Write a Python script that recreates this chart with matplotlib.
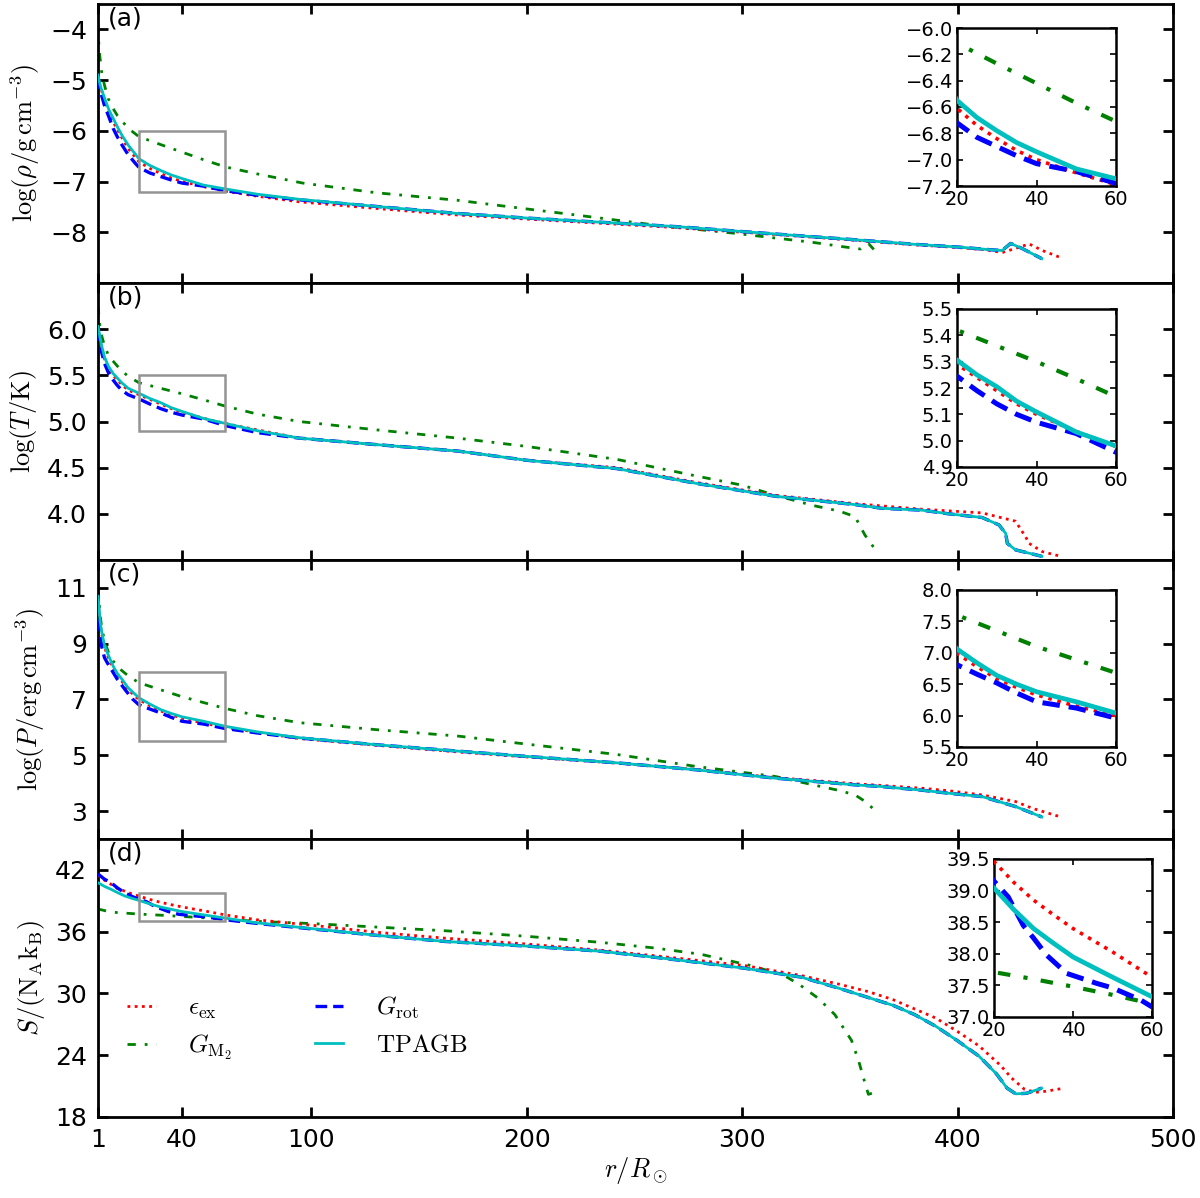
import matplotlib
matplotlib.use("Agg")
import matplotlib.pyplot as plt
from matplotlib.patches import Rectangle

# ---------------- data ----------------
# Panel (a): log(rho)
r_rho_ex = [1, 2, 4, 6, 8, 10, 12, 15, 20, 25, 30, 35, 40, 50, 60, 75, 94.4, 130, 168, 200, 241.8, 270, 314, 350, 381, 400, 414, 420.7, 426, 433.2, 440, 447.9]
rho_ex = [-4.92, -5.12, -5.38, -5.62, -5.82, -5.98, -6.13, -6.35, -6.61, -6.74, -6.84, -6.93, -7.0, -7.10, -7.19, -7.29, -7.40, -7.53, -7.66, -7.74, -7.84, -7.91, -8.04, -8.15, -8.25, -8.30, -8.35, -8.40, -8.33, -8.23, -8.37, -8.50]
r_rho_m2 = [1, 1.5, 2.7, 4, 5.8, 8, 10, 12, 15, 20, 30, 40, 50, 60, 75, 96, 130, 168, 200, 223, 260, 296.5, 333, 351, 355, 358.6, 362]
rho_m2 = [-3.9, -4.4, -4.84, -5.1, -5.37, -5.56, -5.7, -5.8, -5.95, -6.115, -6.27, -6.42, -6.57, -6.71, -6.85, -7.03, -7.22, -7.37, -7.54, -7.66, -7.86, -8.02, -8.20, -8.31, -8.33, -8.22, -8.38]
r_rho_rot = [1, 2, 4, 6, 8, 10, 12, 15, 18.3, 20, 25, 30, 35, 40, 50, 60, 75, 94.4, 130, 168, 200, 241.8, 270, 314, 350, 381, 400, 414, 420.7, 424.6, 430, 439.1]
rho_rot = [-4.95, -5.2, -5.5, -5.72, -5.95, -6.12, -6.27, -6.47, -6.64, -6.72, -6.83, -6.90, -6.97, -7.03, -7.09, -7.18, -7.27, -7.36, -7.49, -7.63, -7.72, -7.82, -7.89, -8.03, -8.14, -8.24, -8.29, -8.34, -8.36, -8.22, -8.32, -8.52]
r_rho_tp = [1, 2, 4, 6, 8, 10, 12, 15, 20, 25, 30, 35, 40, 50, 60, 75, 94.4, 130, 168, 200, 241.8, 270, 314, 350, 381, 400, 414, 420.7, 424.6, 430, 439.1]
rho_tp = [-4.9, -5.1, -5.35, -5.58, -5.75, -5.92, -6.08, -6.28, -6.55, -6.68, -6.78, -6.87, -6.94, -7.07, -7.145, -7.25, -7.35, -7.49, -7.63, -7.72, -7.82, -7.89, -8.03, -8.14, -8.24, -8.29, -8.34, -8.36, -8.22, -8.32, -8.52]

# Panel (b): log(T)
r_T_ex = [1, 2, 2.7, 4, 5.8, 8, 10, 12, 15, 20, 25, 30, 35, 40, 50, 60, 94.4, 130, 168, 200, 241.8, 278.7, 315.5, 352.4, 383.4, 411.4, 426.9, 431.6, 433.2, 439.4, 447.9]
T_ex = [6.0, 5.87, 5.8, 5.68, 5.58, 5.5, 5.45, 5.40, 5.34, 5.29, 5.24, 5.19, 5.14, 5.10, 5.035, 4.978, 4.82, 4.75, 4.68, 4.58, 4.50, 4.34, 4.20, 4.11, 4.05, 4.01, 3.92, 3.75, 3.68, 3.59, 3.54]
r_T_m2 = [1, 2, 2.7, 4, 5.8, 7.4, 10, 12, 15, 20, 30, 40, 50, 60, 75, 94.4, 130, 168, 200, 241.8, 278.7, 300, 315.5, 333, 345, 352.4, 357, 362.5]
T_m2 = [6.25, 6.0, 5.93, 5.82, 5.72, 5.67, 5.6, 5.55, 5.49, 5.42, 5.36, 5.30, 5.235, 5.167, 5.08, 5.0, 4.91, 4.82, 4.73, 4.59, 4.41, 4.31, 4.20, 4.09, 4.03, 3.97, 3.77, 3.59]
r_T_rot = [1, 2, 2.7, 4, 5.8, 8, 10, 12, 15, 20, 25, 30, 35, 40, 50, 60, 75, 94.4, 130, 168, 200, 241.8, 278.7, 315.5, 352.4, 364.8, 383.4, 395.9, 411.4, 419.2, 422.3, 423.1, 426.9, 439.1]
T_rot = [6.0, 5.84, 5.75, 5.63, 5.53, 5.45, 5.39, 5.34, 5.29, 5.245, 5.19, 5.14, 5.10, 5.07, 5.027, 4.956, 4.88, 4.82, 4.75, 4.68, 4.58, 4.49, 4.33, 4.19, 4.10, 4.06, 4.04, 4.0, 3.96, 3.88, 3.79, 3.68, 3.61, 3.54]
r_T_tp = [1, 2, 2.7, 4, 5.8, 8, 10, 12, 15, 20, 25, 30, 35, 40, 50, 60, 75, 94.4, 130, 168, 200, 241.8, 278.7, 315.5, 352.4, 364.8, 383.4, 395.9, 411.4, 419.2, 422.3, 423.1, 426.9, 439.1]
T_tp = [6.03, 5.9, 5.82, 5.7, 5.6, 5.52, 5.47, 5.42, 5.36, 5.306, 5.25, 5.205, 5.15, 5.109, 5.033, 4.98, 4.90, 4.82, 4.75, 4.68, 4.58, 4.49, 4.33, 4.19, 4.10, 4.06, 4.04, 4.0, 3.96, 3.88, 3.79, 3.68, 3.61, 3.54]

# Panel (c): log(P)
r_P_ex = [1, 2, 2.7, 4, 5.8, 8, 10, 12, 15, 20, 25, 30, 35, 40, 50, 60, 94.4, 130, 168, 200, 241.8, 278.7, 315.5, 352.4, 364.8, 383.4, 395.9, 411.4, 427, 434.7, 447.9]
P_ex = [10.6, 9.7, 9.35, 8.88, 8.5, 8.12, 7.86, 7.66, 7.35, 6.99, 6.78, 6.59, 6.45, 6.33, 6.15, 6.0, 5.6, 5.36, 5.12, 4.94, 4.72, 4.49, 4.2, 3.98, 3.92, 3.82, 3.73, 3.58, 3.34, 3.10, 2.79]
r_P_m2 = [1, 2, 2.7, 4, 5.8, 8, 10, 12, 15, 20, 30, 40, 50, 60, 75, 94.4, 130, 168, 200, 241.8, 278.7, 315.5, 333, 345, 352.4, 357, 362.5]
P_m2 = [11.0, 10.0, 9.6, 9.1, 8.7, 8.38, 8.2, 8.04, 7.85, 7.60, 7.35, 7.10, 6.89, 6.68, 6.42, 6.17, 5.92, 5.69, 5.40, 5.03, 4.60, 4.24, 3.94, 3.74, 3.58, 3.35, 2.97]
r_P_rot = [1, 2, 2.7, 4, 5.8, 7.4, 10, 13.6, 17, 20, 25, 30, 35, 40, 50, 60, 75, 94.4, 130, 168, 200, 241.8, 278.7, 315.5, 352.4, 364.8, 383.4, 395.9, 411.4, 419.2, 427, 439.1]
P_rot = [10.5, 9.3, 8.9, 8.5, 8.25, 8.05, 7.72, 7.35, 7.02, 6.81, 6.66, 6.52, 6.36, 6.22, 6.12, 5.96, 5.8, 5.62, 5.38, 5.15, 4.96, 4.73, 4.48, 4.18, 3.94, 3.88, 3.75, 3.64, 3.52, 3.34, 3.16, 2.79]
r_P_tp = [1, 2, 2.7, 4, 5.8, 8, 10, 12, 15, 20, 25, 30, 35, 40, 50, 60, 75, 94.4, 130, 168, 200, 241.8, 278.7, 315.5, 352.4, 364.8, 383.4, 395.9, 411.4, 419.2, 427, 439.1]
P_tp = [10.7, 9.8, 9.43, 8.95, 8.59, 8.2, 7.93, 7.74, 7.42, 7.06, 6.84, 6.64, 6.5, 6.38, 6.22, 6.04, 5.84, 5.63, 5.38, 5.15, 4.96, 4.73, 4.48, 4.18, 3.94, 3.88, 3.75, 3.64, 3.52, 3.34, 3.16, 2.79]

# Panel (d): entropy
r_S_ex = [1, 4, 7.2, 10, 13.4, 17, 20, 25, 30, 35, 40, 50, 60, 75, 100, 130, 162, 200, 234.3, 260, 280, 301.4, 327.5, 345, 358.6, 370, 380, 390, 400, 410, 420, 425, 431, 436, 441, 448]
S_ex = [41.5, 41.0, 40.58, 40.2, 39.94, 39.65, 39.46, 39.13, 38.85, 38.62, 38.40, 38.03, 37.63, 37.15, 36.63, 35.95, 35.37, 34.8, 34.2, 33.65, 33.2, 32.7, 31.74, 30.9, 30.17, 29.4, 28.5, 27.6, 26.3, 24.9, 23.0, 21.8, 20.7, 20.4, 20.5, 20.75]
r_S_m2 = [1, 5, 10, 20, 30, 40, 50, 60, 75, 100, 130, 162, 200, 234.3, 260, 280.9, 304.2, 319.6, 327, 335.3, 343, 350.8, 354, 357, 358.6, 363.3]
S_m2 = [38.2, 38.0, 37.85, 37.71, 37.6, 37.48, 37.35, 37.21, 37.0, 36.79, 36.45, 36.09, 35.55, 34.96, 34.4, 33.8, 32.7, 31.74, 30.8, 29.53, 27.95, 25.43, 23.5, 21.32, 20.2, 20.5]
r_S_rot = [1, 4, 7.2, 10, 13.4, 17, 20, 23.6, 27.4, 30, 33.3, 38.4, 46.1, 50, 57.1, 60, 75, 100, 130, 162, 200, 234.3, 260, 280, 301.4, 327.5, 345, 358.6, 370, 380, 390, 400, 410, 418, 423, 427, 432, 439]
S_rot = [41.6, 41.1, 40.73, 40.25, 39.78, 39.4, 39.15, 38.9, 38.45, 38.25, 37.98, 37.69, 37.53, 37.46, 37.27, 37.16, 36.8, 36.27, 35.65, 35.05, 34.6, 34.1, 33.5, 33.0, 32.44, 31.58, 30.5, 29.6, 28.85, 27.95, 26.8, 25.4, 23.9, 22.2, 20.8, 20.25, 20.3, 20.8]
r_S_tp = [1, 4, 7.2, 10, 13.4, 17, 20, 25, 30, 35, 40, 50, 60, 75, 100, 130, 162, 200, 234.3, 260, 280, 301.4, 327.5, 345, 358.6, 370, 380, 390, 400, 410, 418, 423, 427, 432, 439]
S_tp = [40.75, 40.4, 40.1, 39.8, 39.47, 39.22, 39.04, 38.7, 38.40, 38.17, 37.95, 37.63, 37.32, 36.85, 36.3, 35.65, 35.05, 34.6, 34.1, 33.5, 33.0, 32.44, 31.58, 30.5, 29.6, 28.85, 27.95, 26.8, 25.4, 23.9, 22.2, 20.8, 20.25, 20.3, 20.8]

series_labels = [r"$\epsilon_{\rm ex}$", r"$G_{\rm M_2}$", r"$G_{\rm rot}$", r"$\mathrm{TPAGB}$"]
x_ticks = [1, 40, 100, 200, 300, 400, 500]
panel_tags = ["(a)", "(b)", "(c)", "(d)"]
y_labels = [r"$\log(\rho/\mathrm{g\,cm^{-3}})$", r"$\log(T/\mathrm{K})$",
            r"$\log(P/\mathrm{erg\,cm^{-3}})$", r"$S/(\mathrm{N_A k_B})$"]
y_limits = [(-9, -3.5), (3.5, 6.5), (2, 12), (18, 45)]
y_ticks = [[-8, -7, -6, -5, -4], [4.0, 4.5, 5.0, 5.5, 6.0], [3, 5, 7, 9, 11], [18, 24, 30, 36, 42]]
box_ranges = [(-7.2, -6.0), (4.9, 5.5), (5.5, 8.0), (37.0, 39.8)]
inset_limits = [(-7.2, -6.0), (4.9, 5.5), (5.5, 8.0), (37.0, 39.5)]
inset_ticks = [[-7.2, -7.0, -6.8, -6.6, -6.4, -6.2, -6.0],
               [4.9, 5.0, 5.1, 5.2, 5.3, 5.4, 5.5],
               [5.5, 6.0, 6.5, 7.0, 7.5, 8.0],
               [37.0, 37.5, 38.0, 38.5, 39.0, 39.5]]
inset_x = [20, 40, 60]

panels = [
    [(r_rho_ex, rho_ex), (r_rho_m2, rho_m2), (r_rho_rot, rho_rot), (r_rho_tp, rho_tp)],
    [(r_T_ex, T_ex), (r_T_m2, T_m2), (r_T_rot, T_rot), (r_T_tp, T_tp)],
    [(r_P_ex, P_ex), (r_P_m2, P_m2), (r_P_rot, P_rot), (r_P_tp, P_tp)],
    [(r_S_ex, S_ex), (r_S_m2, S_m2), (r_S_rot, S_rot), (r_S_tp, S_tp)],
]

# ---------------- style ----------------
plt.rcParams.update({
    "font.family": "DejaVu Sans",
    "mathtext.fontset": "cm",
    "xtick.direction": "in",
    "ytick.direction": "in",
    "xtick.top": True,
    "ytick.right": True,
})

colors = ["red", (0, 0.5, 0), "blue", (0, 0.75, 0.75)]
styles = [dict(linestyle=(0, (1, 1.6))),
          dict(linestyle=(0, (3, 3.2, 1, 3.2))),
          dict(linestyle=(0, (3.5, 1.8))),
          dict(linestyle="-")]
main_lw = [2.0, 2.0, 2.4, 2.0]
inset_lw = [2.6, 3.0, 3.6, 3.4]
zorders = [3, 2, 4, 5]

fig = plt.figure(figsize=(12, 11.98), dpi=100)
W, H = 1200.0, 1198.0
left, right = 98 / W, 1173 / W
edges = [4, 283, 560, 839, 1117]
inset_px = [(957, 28, 1116, 186), (957, 309, 1116, 467), (957, 590, 1116, 747), (994, 859, 1152, 1017)]

axes = []
for i in range(4):
    top_px, bot_px = edges[i], edges[i + 1]
    ax = fig.add_axes([left, 1 - bot_px / H, right - left, (bot_px - top_px) / H])
    axes.append(ax)
    handles = []
    for j, (rr, vv) in enumerate(panels[i]):
        h, = ax.plot(rr, vv, color=colors[j], lw=main_lw[j], zorder=zorders[j], **styles[j])
        handles.append(h)
    ax.set_xlim(1, 500)
    ax.set_ylim(*y_limits[i])
    ax.set_xticks(x_ticks)
    ax.set_yticks(y_ticks[i])
    if i == 1:
        ax.set_yticklabels(["%.1f" % t for t in y_ticks[i]])
    ax.tick_params(which="major", length=7, width=2, labelsize=18, pad=8)
    for s in ax.spines.values():
        s.set_linewidth(2)
    if i < 3:
        ax.tick_params(labelbottom=False)
    else:
        ax.set_xlabel(r"$r/R_\odot$", fontsize=19, labelpad=2)
    ax.set_ylabel(y_labels[i], fontsize=19, labelpad=6)
    ax.text(0.009, 0.99, panel_tags[i], transform=ax.transAxes, ha="left", va="top", fontsize=18)
    y0, y1 = box_ranges[i]
    ax.add_patch(Rectangle((20, y0), 40, y1 - y0, fill=False, ec="0.58", lw=1.8, zorder=6))

    # inset
    x0p, y0p, x1p, y1p = inset_px[i]
    ins = fig.add_axes([x0p / W, 1 - y1p / H, (x1p - x0p) / W, (y1p - y0p) / H])
    for j, (rr, vv) in enumerate(panels[i]):
        ins.plot(rr, vv, color=colors[j], lw=inset_lw[j], zorder=zorders[j], **styles[j])
    ins.set_xlim(20, 60)
    ins.set_ylim(*inset_limits[i])
    ins.set_xticks(inset_x)
    ins.set_yticks(inset_ticks[i])
    ins.set_yticklabels(["%.1f" % t if t >= 0 else "\u2212%.1f" % abs(t) for t in inset_ticks[i]])
    ins.tick_params(length=4, width=1.2, labelsize=14, pad=3)
    for s in ins.spines.values():
        s.set_linewidth(1.8)

    if i == 3:
        leg_handles = [handles[0], handles[1], handles[2], handles[3]]
        ax.legend(leg_handles, series_labels, loc="upper left", bbox_to_anchor=(0.006, 0.52),
                  ncol=2, frameon=False, fontsize=18, handlelength=1.15,
                  handletextpad=1.3, columnspacing=3.3, labelspacing=0.45)

fig.savefig("out.png", dpi=100, facecolor="white")
